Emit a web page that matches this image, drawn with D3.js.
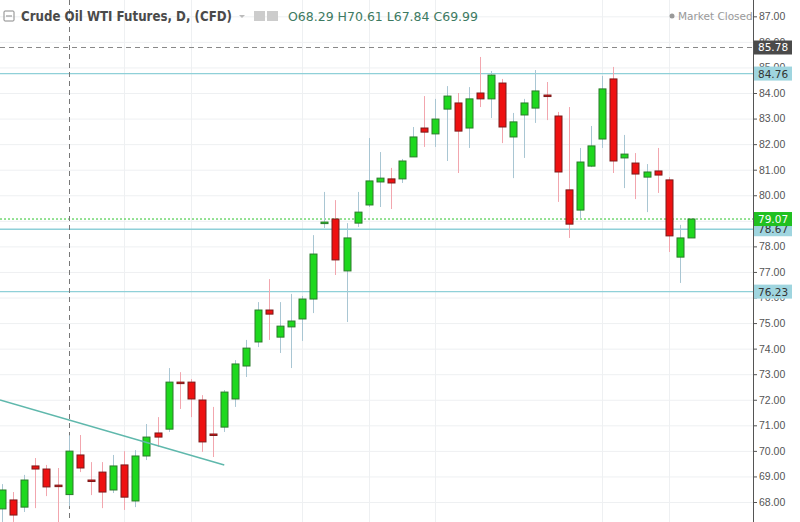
<!DOCTYPE html>
<html><head><meta charset="utf-8">
<script src="https://cdnjs.cloudflare.com/ajax/libs/d3/7.8.5/d3.min.js"></script>
<style>body{margin:0;background:#fff}svg{display:block;font-family:"DejaVu Sans",sans-serif}</style>
</head><body><svg id="c" width="800" height="522"></svg>
<script>
"use strict";

// daily candles, oldest first: [open, high, low, close]
const opens  = [67.73,68.08,67.80,69.41,69.29,68.66,68.29,69.84,68.86,69.17,68.47,69.45,68.04,69.80,70.70,70.85,72.69,72.69,71.99,70.66,70.93,72.03,73.32,74.26,75.51,74.45,74.85,75.16,75.94,78.91,79.07,77.04,78.91,79.62,80.52,80.64,80.64,81.50,82.63,82.40,83.37,83.61,82.63,84.00,83.77,84.39,82.28,83.14,83.41,83.92,83.10,80.21,79.42,81.14,82.20,84.55,81.46,81.26,80.71,80.95,80.60,77.58,78.33];
const highs  = [68.70,68.39,69.06,69.72,69.45,69.33,70.61,70.62,69.56,69.56,69.84,69.99,70.03,71.05,71.32,73.24,73.08,72.81,72.18,71.72,72.38,73.55,74.34,75.82,76.72,75.82,76.14,76.06,78.44,80.13,79.81,78.91,80.13,82.24,81.69,81.07,81.42,82.67,83.88,83.77,84.27,84.00,84.23,85.41,84.86,84.55,83.22,83.77,84.90,84.43,83.26,83.45,81.85,82.71,84.67,85.02,82.36,81.65,81.22,81.85,80.71,78.84,79.07];
const lows   = [67.22,67.22,67.61,67.76,68.23,67.10,67.84,69.17,68.27,67.76,68.35,67.69,67.80,69.64,70.15,70.74,71.64,71.32,69.96,69.76,70.74,71.72,72.89,74.06,74.34,73.83,73.24,74.30,75.39,78.72,76.88,75.04,78.76,79.54,79.54,79.46,80.48,81.50,81.89,81.89,81.34,80.87,81.85,83.45,83.02,82.04,80.67,81.46,82.83,82.94,79.74,78.33,79.11,81.10,81.85,80.87,80.28,79.85,79.34,80.09,77.78,76.57,78.33];
const closes = [68.47,67.49,68.86,69.29,68.59,68.64,69.99,69.33,68.84,68.39,69.41,68.19,69.80,70.54,70.54,72.69,72.67,72.03,70.35,70.64,72.30,73.40,74.02,75.51,75.35,74.88,75.08,75.94,77.70,78.95,77.47,78.33,79.34,80.56,80.67,80.48,81.34,82.28,82.47,82.98,83.88,82.51,83.77,83.77,84.70,82.67,82.87,83.61,84.08,83.90,80.91,78.87,81.30,81.93,84.16,81.34,81.61,80.83,80.91,80.79,78.41,78.33,79.07];

const yTicks = [68,69,70,71,72,73,74,75,76,77,78,79,80,81,82,83,84,85,86,87];
const gridIdx = [11,17,27,33,39,54,60];            // candle indices with vertical grid lines
const levels = [84.76, 78.67, 76.23];              // drawn horizontal lines
const highMark = 85.78;
const lastPrice = 79.07;
const trendIdx = [-0.18, 20.0];
const trendPx  = [71.99, 69.45];
const crossIdx = 6;
const hdr = {o: 68.29, h: 70.61, l: 67.84, c: 69.99};

const W = 800, H = 522, axisX = 753;
const svg = d3.select("#c");
const x = d3.scaleLinear().domain([0, 62]).range([2, 691]);
const y = d3.scaleLinear().domain([68, 84]).range([502, 93]);
const bw = 7;

svg.append("clipPath").attr("id", "pc").append("rect")
  .attr("width", axisX).attr("height", H);
const plot = svg.append("g").attr("clip-path", "url(#pc)");

// grid
plot.selectAll("line.hg").data(yTicks).join("line")
  .attr("x1", 0).attr("x2", axisX).attr("y1", d => y(d) + .5).attr("y2", d => y(d) + .5)
  .attr("stroke", "#eef0f2");
plot.selectAll("line.vg").data(gridIdx).join("line")
  .attr("x1", d => Math.round(x(d)) + .5).attr("x2", d => Math.round(x(d)) + .5)
  .attr("y1", 0).attr("y2", H).attr("stroke", "#eef0f2");

// horizontal levels
plot.selectAll("line.lv").data(levels).join("line")
  .attr("x1", 0).attr("x2", axisX).attr("y1", d => y(d)).attr("y2", d => y(d))
  .attr("stroke", "#8fd0d8").attr("stroke-width", 1.3);
plot.append("line").attr("x1", 0).attr("x2", axisX).attr("y1", y(highMark)).attr("y2", y(highMark))
  .attr("stroke", "#888").attr("stroke-dasharray", "5,4");
plot.append("line").attr("x1", 0).attr("x2", axisX).attr("y1", y(lastPrice)).attr("y2", y(lastPrice))
  .attr("stroke", "#2bc42b").attr("stroke-dasharray", "2,2");

// crosshair
plot.append("line").attr("x1", Math.round(x(crossIdx)) + .5).attr("x2", Math.round(x(crossIdx)) + .5)
  .attr("y1", 0).attr("y2", H).attr("stroke", "#777").attr("stroke-dasharray", "5,4");

// candles
const idx = d3.range(opens.length);
const up = i => closes[i] >= opens[i];
const g = plot.append("g");
g.selectAll("line.w").data(idx).join("line")
  .attr("x1", i => Math.round(x(i)) + .5).attr("x2", i => Math.round(x(i)) + .5)
  .attr("y1", i => y(highs[i])).attr("y2", i => y(lows[i]))
  .attr("stroke", i => up(i) ? "#a9c6d3" : "#f2a6ae");
g.selectAll("rect").data(idx).join("rect")
  .attr("x", i => Math.round(x(i)) - bw / 2 + .5)
  .attr("width", bw)
  .attr("y", i => y(Math.max(opens[i], closes[i])))
  .attr("height", i => Math.max(1.5, Math.abs(y(opens[i]) - y(closes[i]))))
  .attr("fill", i => up(i) ? "#1ed81e" : "#ee1111")
  .attr("stroke", i => up(i) ? "#2a7a2a" : "#7a1a1a").attr("stroke-width", 1);

// trend line
plot.append("line")
  .attr("x1", x(trendIdx[0])).attr("y1", y(trendPx[0]))
  .attr("x2", x(trendIdx[1])).attr("y2", y(trendPx[1]))
  .attr("stroke", "#5fb8ac").attr("stroke-width", 1.5);

// right axis
const ax = svg.append("g").attr("transform", `translate(${axisX},0)`)
  .call(d3.axisRight(y).tickValues(yTicks).tickSize(4).tickPadding(2).tickFormat(d3.format(".2f")));
ax.select(".domain").attr("stroke", "#555").attr("d", `M0.5,0V${H}`);
ax.selectAll(".tick line").attr("stroke", "#555");
ax.selectAll(".tick text").attr("fill", "#555").attr("font-size", 10.5);

// price labels (cover the tick labels beneath them, as in the source)
const tags = [
  {v: highMark, bg: "#4a4a4a", fg: "#fff"},
  ...levels.map(v => ({v, bg: "#9fd5df", fg: "#333"})),
  {v: lastPrice, bg: "#20c020", fg: "#fff"}
];
const tg = svg.selectAll("g.tag").data(tags).join("g")
  .attr("transform", d => `translate(${axisX + 1},${y(d.v)})`);
tg.append("rect").attr("x", 0).attr("y", -7).attr("width", 38).attr("height", 14).attr("fill", d => d.bg);
tg.append("text").attr("x", 4).attr("y", 4).attr("font-size", 10.5).attr("fill", d => d.fg)
  .text(d => d.v.toFixed(2));

// header
svg.append("rect").attr("x", 4).attr("y", 11).attr("width", 10).attr("height", 10)
  .attr("fill", "none").attr("stroke", "#888").attr("rx", 1);
svg.append("line").attr("x1", 6).attr("x2", 12).attr("y1", 16).attr("y2", 16).attr("stroke", "#888");
svg.append("text").attr("x", 21).attr("y", 21).attr("font-size", 13.5).attr("font-weight", "bold")
  .attr("fill", "#4a4a4a").attr("textLength", 211).attr("lengthAdjust", "spacingAndGlyphs")
  .text("Crude Oil WTI Futures, D, (CFD)");
svg.append("path").attr("d", "M239,15l6,0l-3,3z").attr("fill", "#bbb");
svg.append("rect").attr("x", 254).attr("y", 11).attr("width", 11).attr("height", 10).attr("fill", "#ccc");
svg.append("rect").attr("x", 267).attr("y", 11).attr("width", 11).attr("height", 10).attr("fill", "#ccc");
svg.append("text").attr("x", 288).attr("y", 21).attr("font-size", 12.5).attr("fill", "#3d7a62")
  .text(`O${hdr.o.toFixed(2)}  H${hdr.h.toFixed(2)}  L${hdr.l.toFixed(2)}  C${hdr.c.toFixed(2)}`);
svg.append("circle").attr("cx", 672).attr("cy", 16).attr("r", 2.5).attr("fill", "#999");
svg.append("text").attr("x", 678).attr("y", 20).attr("font-size", 10.5).attr("fill", "#999").text("Market Closed");
</script></body></html>
